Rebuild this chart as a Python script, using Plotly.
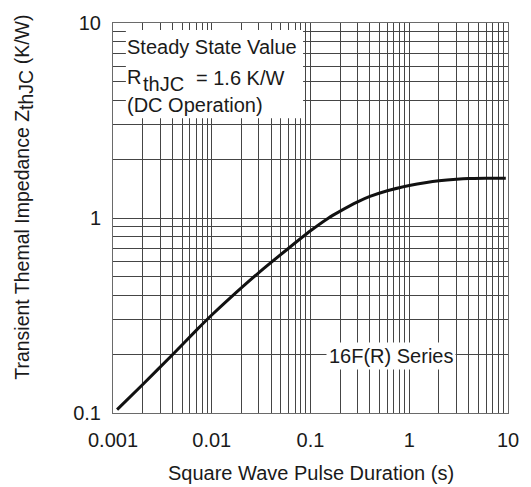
import plotly.graph_objects as go

# ---- data ----
pulse_duration_s = [0.0011, 0.002, 0.004, 0.007, 0.01, 0.015, 0.03, 0.06, 0.1, 0.15, 0.2, 0.3,
                    0.4, 0.6, 1.0, 1.5, 2.0, 3.0, 4.0, 6.0, 9.5]
z_thjc_kw = [0.104, 0.140, 0.199, 0.266, 0.318, 0.385, 0.525, 0.70, 0.86, 0.995, 1.085, 1.21,
             1.29, 1.38, 1.468, 1.522, 1.551, 1.579, 1.592, 1.597, 1.60]

x_decades = [0.001, 0.01, 0.1, 1, 10]
x_decade_labels = ["0.001", "0.01", "0.1", "1", "10"]
y_decades = [0.1, 1, 10]
y_decade_labels = ["0.1", "1", "10"]
digits = [2, 3, 4, 5, 6, 7, 8, 9]

# minor grid positions (2..9 in each decade)
x_minor = [d * dec for dec in x_decades[:-1] for d in digits]
y_minor = [d * dec for dec in y_decades[:-1] for d in digits]

W, H = 531, 487
L, R, T, B = 113, 19, 16, 74
PW, PH = W - L - R, H - T - B
FONT = "Liberation Sans, Arial, Helvetica, sans-serif"
FS = 20
GRID = "#454545"


def px(xp):
    return (xp - L) / PW


def py(yp):
    return 1 - (yp - T) / PH


fig = go.Figure()
fig.add_trace(go.Scatter(
    x=pulse_duration_s, y=z_thjc_kw, mode="lines",
    line=dict(color="#111111", width=3, shape="spline", smoothing=0.6),
    showlegend=False, hoverinfo="skip",
))

axis_common = dict(
    type="log", showgrid=True, gridcolor=GRID, gridwidth=1,
    showline=True, linecolor="#6a6a6a", linewidth=1, mirror=True,
    ticks="", zeroline=False, tickmode="array",
    tickfont=dict(family=FONT, size=FS, color="#1a1a1a"),
)
fig.update_xaxes(range=[-3, 1], tickvals=x_decades, ticktext=x_decade_labels,
                 ticklabelstandoff=9,
                 minor=dict(tickmode="array", tickvals=x_minor, showgrid=True,
                            gridcolor=GRID, gridwidth=1, ticks=""),
                 **axis_common)
fig.update_yaxes(range=[-1, 1], tickvals=y_decades, ticktext=y_decade_labels,
                 ticklabelstandoff=7,
                 minor=dict(tickmode="array", tickvals=y_minor, showgrid=True,
                            gridcolor=GRID, gridwidth=1, ticks=""),
                 **axis_common)

# white text box top-left
fig.add_shape(type="rect", xref="paper", yref="paper",
              x0=px(126), x1=px(305), y0=py(113), y1=py(23),
              fillcolor="white", line=dict(width=0), layer="above")

tf = dict(family=FONT, size=FS, color="#1a1a1a")
ann = []


def add(text, xp, yp, xanchor="left", font=tf, **kw):
    ann.append(dict(text=text, xref="paper", yref="paper", x=px(xp), y=py(yp),
                    xanchor=xanchor, yanchor="middle", showarrow=False,
                    font=font, **kw))


add("Steady State Value", 125, 40)
add("R", 125, 70.5)
add("thJC", 141, 78.5)
add("= 1.6 K/W", 195, 71.5)
add("(DC Operation)", 125, 99.5)
add("16F(R) Series", 393.5, 355, xanchor="center", bgcolor="white", borderpad=2)
add("Square Wave Pulse Duration (s)", 312.5, 474, xanchor="center")
add('Transient Themal Impedance Z<sub><span style="font-size:19.5px">thJC</span></sub> (K/W)',
    23, 193, xanchor="center", textangle=-90,
    font=dict(family=FONT, size=19.5, color="#1a1a1a"))

fig.update_layout(
    width=W, height=H, margin=dict(l=L, r=R, t=T, b=B),
    paper_bgcolor="white", plot_bgcolor="white",
    annotations=ann, font=dict(family=FONT),
)

fig.write_html(
    "out.html",
    config={"displayModeBar": False},
    post_script="document.body.style.margin='0px';document.body.style.overflow='hidden';",
)
